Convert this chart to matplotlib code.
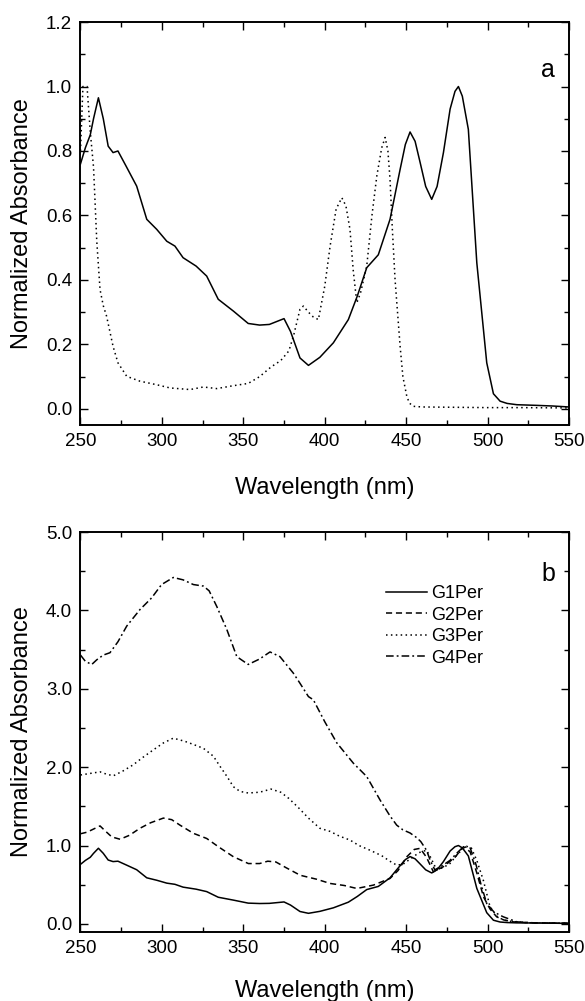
import matplotlib
matplotlib.use("Agg")
import matplotlib.pyplot as plt
from matplotlib.ticker import MultipleLocator, FormatStrFormatter

plt.rcParams['font.family'] = ['Liberation Sans', 'DejaVu Sans']

# solid curve (panel a) = G1Per (panel b)
g1_x = [250, 253, 256, 258, 261, 264, 267, 270, 273, 278, 284.5, 290.7, 296.8, 303, 308,
        313, 321, 327.5, 334.6, 344, 353, 360, 366, 371, 375, 379, 384.8, 390, 397, 405.3,
        414.5, 420, 425.8, 432.9, 440.1, 446.3, 449.5, 452.4, 455.5, 458.6, 462, 465.7, 469,
        472.9, 477, 480, 482.1, 484.5, 488.2, 493.4, 499.5, 503.6, 507.7, 512, 518, 530, 540, 550]
g1_y = [0.76, 0.81, 0.85, 0.90, 0.965, 0.90, 0.815, 0.795, 0.80, 0.753, 0.691, 0.588, 0.557, 0.52, 0.505,
        0.469, 0.443, 0.412, 0.34, 0.303, 0.265, 0.26, 0.262, 0.272, 0.28, 0.24, 0.158, 0.135, 0.16, 0.205,
        0.277, 0.35, 0.438, 0.478, 0.588, 0.743, 0.82, 0.859, 0.83, 0.764, 0.69, 0.65, 0.69,
        0.795, 0.93, 0.985, 1.0, 0.97, 0.867, 0.453, 0.143, 0.047, 0.024, 0.017, 0.013, 0.011, 0.009, 0.006]

# dotted curve (panel a)
a2_x = [250, 251.5, 254, 256, 258, 260, 262, 264, 266, 270, 273, 278.4, 286.5, 296.8, 305, 317.3,
        325.5, 333.7, 343.9, 353, 360, 367, 373, 378, 381, 384.8, 386.9, 390, 393, 396.1, 400,
        403.3, 407, 410.5, 413, 415.5, 417.5, 419.7, 422, 425.8, 429, 432, 435, 437.1, 438.8,
        440.1, 441.5, 443.2, 446.3, 448, 450.4, 452, 454.4, 460, 480, 500, 520, 550]
a2_y = [0.80, 1.0, 1.0, 0.86, 0.75, 0.52, 0.37, 0.32, 0.288, 0.194, 0.143, 0.101, 0.086, 0.075, 0.065, 0.06,
        0.068, 0.063, 0.072, 0.079, 0.10, 0.13, 0.15, 0.18, 0.23, 0.309, 0.319, 0.30, 0.285, 0.277, 0.38,
        0.505, 0.62, 0.655, 0.63, 0.557, 0.43, 0.329, 0.36, 0.443, 0.60, 0.723, 0.81, 0.842, 0.80,
        0.712, 0.56, 0.40, 0.194, 0.10, 0.039, 0.018, 0.008, 0.006, 0.005, 0.004, 0.004, 0.003]

g2_x = [250, 254, 258, 262, 265, 269.2, 274.3, 280, 286.5, 293, 300.9, 306, 311.1, 319.3, 327.5,
        335, 343.9, 353.1, 360, 365, 370, 376, 385, 395, 403.3, 412, 419.7, 429.9, 440.1, 445,
        450.4, 455, 458.6, 462.5, 466.7, 472.9, 480, 485.2, 489.3, 493.4, 497.5, 501.5, 505.6,
        510, 515.8, 525, 550]
g2_y = [1.15, 1.17, 1.21, 1.25, 1.19, 1.11, 1.08, 1.13, 1.22, 1.29, 1.35, 1.33, 1.26, 1.156, 1.09,
        0.98, 0.857, 0.77, 0.77, 0.80, 0.79, 0.72, 0.62, 0.57, 0.516, 0.49, 0.452, 0.495, 0.58, 0.68,
        0.857, 0.95, 0.964, 0.85, 0.665, 0.73, 0.85, 0.985, 0.92, 0.65, 0.345, 0.19, 0.09,
        0.05, 0.026, 0.015, 0.008]

g3_x = [250, 256, 262, 266, 270.2, 276, 282.4, 288, 294.7, 301, 307, 314, 319.3, 325.5, 331.6,
        335.7, 340, 343.9, 348, 353, 360, 367, 373, 378, 384, 390, 397, 403.3, 409, 415.5, 421,
        427.8, 435, 440, 444.2, 448, 454.4, 458, 462.5, 465, 468.7, 472.9, 476.9, 482, 487.1,
        490, 493.4, 497.5, 501.5, 505.6, 509.7, 515, 525, 550]
g3_y = [1.90, 1.92, 1.94, 1.91, 1.89, 1.95, 2.03, 2.12, 2.22, 2.31, 2.37, 2.33, 2.29, 2.24, 2.14,
        2.01, 1.88, 1.75, 1.69, 1.67, 1.68, 1.72, 1.68, 1.60, 1.48, 1.35, 1.22, 1.18, 1.12, 1.07, 1.00,
        0.94, 0.87, 0.80, 0.75, 0.76, 0.857, 0.91, 0.94, 0.85, 0.69, 0.72, 0.77, 0.90, 0.99,
        0.97, 0.81, 0.55, 0.22, 0.10, 0.05, 0.03, 0.015, 0.008]

g4_x = [250, 253, 256.9, 260, 264, 268.1, 273, 278.4, 286.5, 293.7, 299.8, 307, 313, 319.3, 325.5,
        329, 333.7, 339.8, 346, 353, 360, 366.4, 372.5, 380.7, 384.8, 390, 393, 400, 407.4, 417.6,
        425.8, 434, 440, 444.2, 448, 452.4, 456.5, 459, 462.5, 465, 467.6, 472, 476.9, 481, 485.2,
        489.3, 493, 496, 499.5, 504, 509.7, 518, 530, 550]
g4_y = [3.43, 3.35, 3.31, 3.37, 3.43, 3.46, 3.60, 3.80, 4.01, 4.16, 4.33, 4.42, 4.39, 4.33, 4.31,
        4.25, 4.05, 3.76, 3.41, 3.31, 3.38, 3.47, 3.41, 3.20, 3.07, 2.90, 2.86, 2.58, 2.31, 2.05,
        1.88, 1.58, 1.38, 1.26, 1.20, 1.16, 1.10, 1.05, 0.94, 0.80, 0.69, 0.74, 0.81, 0.90, 0.985,
        0.97, 0.75, 0.50, 0.26, 0.15, 0.09, 0.026, 0.012, 0.008]

labels = ['G1Per', 'G2Per', 'G3Per', 'G4Per']

DOT = (0, (1, 2.2))
DASH = (0, (4, 2.5))
DASHDOT = (0, (5, 2, 1.2, 2))

fig = plt.figure(figsize=(5.85, 10.01), dpi=100)
ax1 = fig.add_axes([0.1376, 0.5754, 0.835, 0.4026])
ax2 = fig.add_axes([0.1376, 0.0692, 0.835, 0.3993])

lw = 1.1
ax1.plot(g1_x, g1_y, color='black', lw=lw, ls='-')
ax1.plot(a2_x, a2_y, color='black', lw=lw, ls=DOT)

ax2.plot(g1_x, g1_y, color='black', lw=lw, ls='-', label=labels[0])
ax2.plot(g2_x, g2_y, color='black', lw=lw, ls=DASH, label=labels[1])
ax2.plot(g3_x, g3_y, color='black', lw=lw, ls=DOT, label=labels[2])
ax2.plot(g4_x, g4_y, color='black', lw=lw, ls=DASHDOT, label=labels[3])

ax1.set_ylim(-0.05, 1.2)
ax2.set_ylim(-0.1, 5.0)
ax1.yaxis.set_major_locator(MultipleLocator(0.2))
ax1.yaxis.set_minor_locator(MultipleLocator(0.1))
ax2.yaxis.set_major_locator(MultipleLocator(1.0))
ax2.yaxis.set_minor_locator(MultipleLocator(0.5))

for ax in (ax1, ax2):
    ax.set_xlim(250, 550)
    ax.xaxis.set_major_locator(MultipleLocator(50))
    ax.xaxis.set_minor_locator(MultipleLocator(25))
    ax.yaxis.set_major_formatter(FormatStrFormatter('%.1f'))
    ax.tick_params(which='both', direction='in', top=True, right=True, width=1.0,
                   labelsize=13.5, pad=6)
    ax.tick_params(which='major', length=5.5)
    ax.tick_params(which='minor', length=3.5)
    for s in ax.spines.values():
        s.set_linewidth(1.4)
    ax.set_xlabel('Wavelength (nm)', fontsize=17)
    ax.set_ylabel('Normalized Absorbance', fontsize=17)
    ax.yaxis.set_label_coords(-0.097, 0.5)

ax1.xaxis.set_label_coords(0.5, -0.13)
ax2.xaxis.set_label_coords(0.5, -0.122)

ax1.text(0.957, 0.88, 'a', transform=ax1.transAxes, fontsize=18, ha='center', va='center')
ax2.text(0.957, 0.895, 'b', transform=ax2.transAxes, fontsize=18, ha='center', va='center')

ax2.legend(loc='center left', bbox_to_anchor=(0.625, 0.765), frameon=False, fontsize=13,
           handlelength=2.3, handletextpad=0.2, labelspacing=0.25, borderpad=0, borderaxespad=0)

fig.savefig('out.png', dpi=100)
